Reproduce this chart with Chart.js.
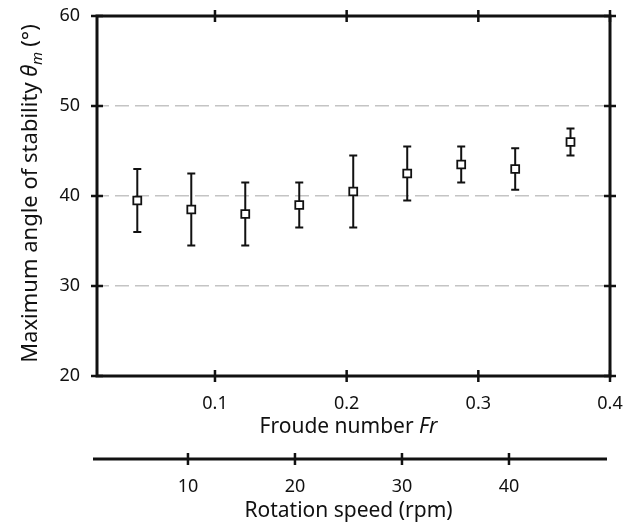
<!DOCTYPE html>
<html>
<head>
<meta charset="utf-8">
<script src="https://cdn.jsdelivr.net/npm/chart.js@4.4.1/dist/chart.umd.min.js"></script>
<style>
  html, body { margin: 0; padding: 0; background: #fff; }
  #wrap { width: 636px; height: 526px; }
</style>
</head>
<body>
<div id="wrap"><canvas id="c"></canvas></div>
<script>
// ---- data ----
const rotationRpm = [5, 10, 15, 20, 25, 30, 35, 40, 45];
const froudeNumber = [0.041, 0.082, 0.123, 0.164, 0.205, 0.246, 0.287, 0.328, 0.370];
const thetaMean = [39.5, 38.5, 38.0, 39.0, 40.5, 42.5, 43.5, 43.0, 46.0];
const thetaLow  = [36.0, 34.5, 34.5, 36.5, 36.5, 39.5, 41.5, 40.7, 44.5];
const thetaHigh = [43.0, 42.5, 41.5, 41.5, 44.5, 45.5, 45.5, 45.3, 47.5];
const yTickValues = [20, 30, 40, 50, 60];
const froudeTickValues = [0.1, 0.2, 0.3, 0.4];
const rpmTickValues = [10, 20, 30, 40];
const froudeRange = [0.0104, 0.4];
const rpmRange = [1.5, 49.44];

const FONT = "'Noto Sans', 'DejaVu Sans', sans-serif";
const INK = '#111';

const points = froudeNumber.map((f, i) => ({ x: f, y: thetaMean[i], lo: thetaLow[i], hi: thetaHigh[i] }));

function drawRich(ctx, segs, x, y, align) {
  let total = 0;
  segs.forEach(s => { ctx.font = s.font; s.w = ctx.measureText(s.text).width + (s.after || 0); total += s.w; });
  let cx = align === 'center' ? x - total / 2 : x;
  segs.forEach(s => {
    ctx.font = s.font;
    ctx.textAlign = 'left';
    ctx.textBaseline = 'alphabetic';
    ctx.fillText(s.text, cx, y + (s.dy || 0));
    cx += s.w;
  });
}

const decorPlugin = {
  id: 'decor',
  beforeDatasetsDraw(chart) {
    const ctx = chart.ctx, xs = chart.scales.x, ys = chart.scales.y;
    ctx.save();
    ctx.strokeStyle = INK;
    ctx.lineWidth = 2;
    chart.data.datasets[0].data.forEach(p => {
      const px = xs.getPixelForValue(p.x);
      const pl = ys.getPixelForValue(p.lo);
      const ph = ys.getPixelForValue(p.hi);
      ctx.beginPath();
      ctx.moveTo(px, pl); ctx.lineTo(px, ph);
      ctx.moveTo(px - 4, pl); ctx.lineTo(px + 4, pl);
      ctx.moveTo(px - 4, ph); ctx.lineTo(px + 4, ph);
      ctx.stroke();
    });
    ctx.restore();
  },
  afterDraw(chart) {
    const ctx = chart.ctx, a = chart.chartArea;
    const xs = chart.scales.x, ys = chart.scales.y, x2 = chart.scales.x2;
    ctx.save();
    ctx.strokeStyle = INK;
    ctx.lineCap = 'butt';
    // frame
    ctx.lineWidth = 3;
    ctx.strokeRect(a.left, a.top, a.right - a.left, a.bottom - a.top);
    // crossing ticks
    ctx.lineWidth = 2.5;
    ctx.beginPath();
    yTickValues.forEach(v => {
      const py = ys.getPixelForValue(v);
      ctx.moveTo(a.left - 6, py); ctx.lineTo(a.left + 6, py);
      ctx.moveTo(a.right - 6, py); ctx.lineTo(a.right + 6, py);
    });
    froudeTickValues.forEach(v => {
      const px = xs.getPixelForValue(v);
      ctx.moveTo(px, a.bottom - 6); ctx.lineTo(px, a.bottom + 6);
      ctx.moveTo(px, a.top - 6); ctx.lineTo(px, a.top + 6);
    });
    ctx.stroke();
    // secondary axis line
    const ly = x2.top;
    ctx.lineWidth = 3;
    ctx.beginPath();
    ctx.moveTo(a.left - 4, ly); ctx.lineTo(a.right - 3, ly);
    ctx.stroke();
    ctx.lineWidth = 2.5;
    ctx.beginPath();
    rpmTickValues.forEach(v => {
      const px = x2.getPixelForValue(v);
      ctx.moveTo(px, ly - 6); ctx.lineTo(px, ly + 6);
    });
    ctx.stroke();
    // axis titles
    ctx.fillStyle = INK;
    const cxm = (a.left + a.right) / 2 - 5;
    drawRich(ctx, [
      { text: 'Froude number ', font: `21px ${FONT}` },
      { text: 'Fr', font: `italic 21px ${FONT}` }
    ], cxm, xs.top + 57, 'center');
    drawRich(ctx, [
      { text: 'Rotation speed (rpm)', font: `21px ${FONT}` }
    ], cxm, x2.top + 58, 'center');
    ctx.save();
    ctx.translate(36.5, (a.top + a.bottom) / 2 - 2.5);
    ctx.rotate(-Math.PI / 2);
    drawRich(ctx, [
      { text: 'Maximum angle of stability ', font: `22px ${FONT}` },
      { text: '\u03B8', font: `italic 22px ${FONT}` },
      { text: 'm', font: `italic 15px ${FONT}`, dy: 5, after: 5 },
      { text: '(\u00B0)', font: `22px ${FONT}` }
    ], 0, 0, 'center');
    ctx.restore();
    ctx.restore();
  }
};

new Chart(document.getElementById('c'), {
  type: 'scatter',
  data: {
    datasets: [{
      data: points,
      pointStyle: 'rect',
      pointRadius: 5.6,
      pointHoverRadius: 5.6,
      pointBorderWidth: 1.8,
      pointBackgroundColor: '#fff',
      pointBorderColor: INK,
      showLine: false
    }]
  },
  options: {
    responsive: true,
    maintainAspectRatio: false,
    animation: false,
    events: [],
    layout: { padding: { left: 0, top: 16, right: 26, bottom: 0 } },
    plugins: { legend: { display: false }, tooltip: { enabled: false } },
    scales: {
      x: {
        type: 'linear', position: 'bottom', weight: 0,
        min: froudeRange[0], max: froudeRange[1],
        afterBuildTicks: s => { s.ticks = froudeTickValues.map(v => ({ value: v })); },
        afterFit: s => { s.height = 83; },
        grid: { display: false },
        border: { display: false },
        ticks: { color: INK, font: { family: FONT, size: 18 }, padding: 9, maxRotation: 0,
                 callback: v => String(v) }
      },
      x2: {
        type: 'linear', position: 'bottom', weight: 1,
        min: rpmRange[0], max: rpmRange[1],
        afterBuildTicks: s => { s.ticks = rpmTickValues.map(v => ({ value: v })); },
        afterFit: s => { s.height = 67; },
        grid: { display: false },
        border: { display: false },
        ticks: { color: INK, font: { family: FONT, size: 18 }, padding: 9, maxRotation: 0,
                 callback: v => String(v) }
      },
      y: {
        type: 'linear', position: 'left',
        min: 20, max: 60,
        afterBuildTicks: s => { s.ticks = yTickValues.map(v => ({ value: v })); },
        afterFit: s => { s.width = 97; s.paddingTop = 10; s.paddingBottom = 10; },
        grid: {
          drawTicks: false,
          lineWidth: 1.5,
          color: c => (c.tick && (c.tick.value === 20 || c.tick.value === 60)) ? 'rgba(0,0,0,0)' : '#c4c4c4'
        },
        border: { display: false, dash: [14, 6], dashOffset: 2 },
        ticks: { color: INK, font: { family: FONT, size: 18 }, padding: 17 }
      }
    }
  },
  plugins: [decorPlugin]
});
</script>
</body>
</html>
